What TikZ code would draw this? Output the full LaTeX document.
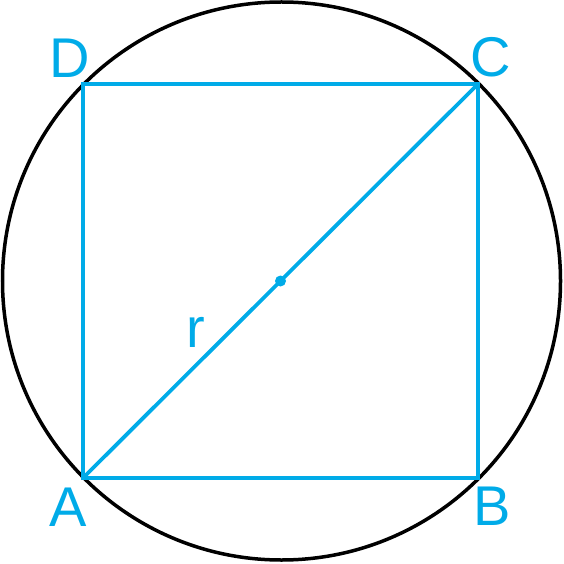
\documentclass[tikz,border=0pt]{standalone}
\usepackage{fontspec}
\setsansfont{Liberation Sans}
\usepackage{tikz}
\usetikzlibrary{positioning}
\definecolor{skyblue}{RGB}{0,171,232}
\tikzstyle{corner_label} = [
    skyblue,
    font=\sffamily\fontsize{56}{56}\selectfont,
    inner sep=0pt,
    align=center
]
\tikzstyle{square_line} = [
    draw=skyblue,
    line width=3.8pt,
    line join=miter
]
\tikzstyle{circle_line} = [
    draw=black,
    line width=3.5pt
]
\begin{document}
\begin{tikzpicture}[x=1pt, y=1pt]
\useasboundingbox (0,0) rectangle (564,563);
% circumscribed circle
\node [circle, circle_line, minimum size=558pt, inner sep=0pt] (circ) at (281.5,282) {};
% square corners
\coordinate (A) at (83,85);
\coordinate (B) at (478,85);
\coordinate (C) at (478,479);
\coordinate (D) at (83,479);
\coordinate (O) at (280.5,282);
\draw [square_line] (A) -- (B) -- (C) -- (D) -- cycle;
\draw [square_line] (A) -- (C);
\fill [skyblue] (O) circle (5.5pt);
% labels
\node [corner_label] (lblA) at (68,56) {A};
\node [corner_label] (lblB) at (492,57) {B};
\node [corner_label] (lblC) at (491,506) {C};
\node [corner_label] (lblD) at (70,505) {D};
\node [corner_label] (lblr) at (196,231) {r};
\end{tikzpicture}
\end{document}
